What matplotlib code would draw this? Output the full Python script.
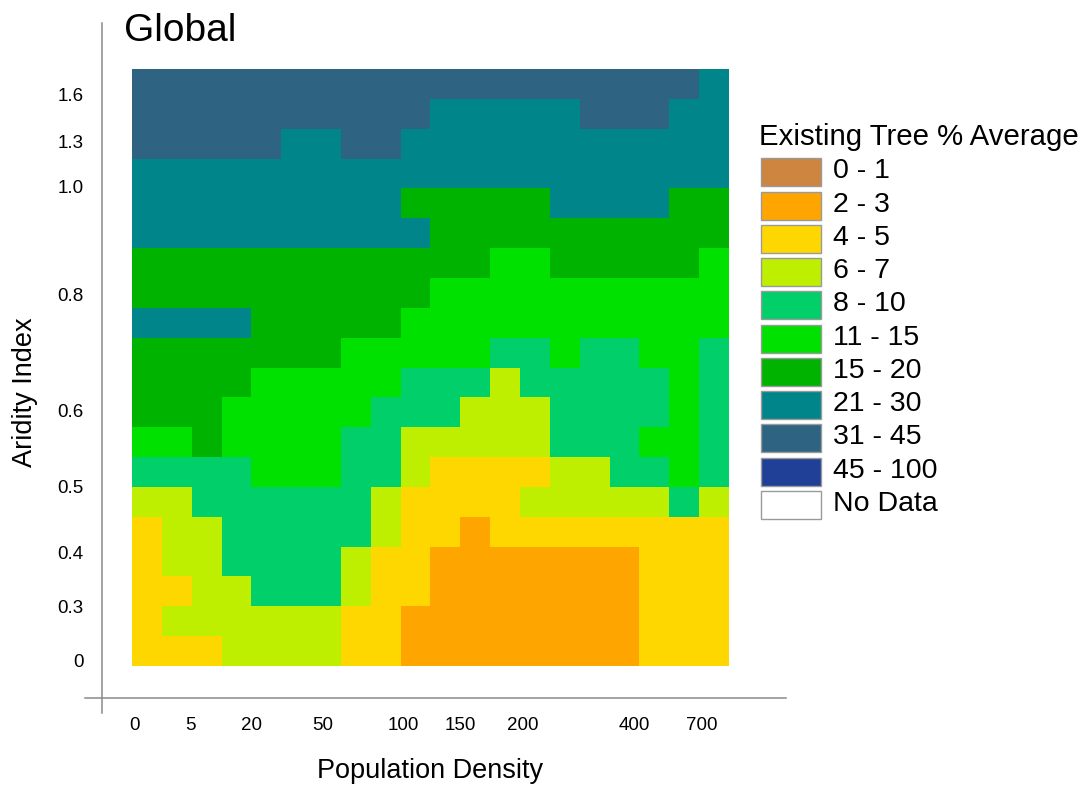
import numpy as np
import matplotlib
matplotlib.use("Agg")
import matplotlib.pyplot as plt
from matplotlib.colors import ListedColormap, BoundaryNorm
from matplotlib.patches import Rectangle
from matplotlib.lines import Line2D

plt.rcParams['font.family'] = ['Liberation Sans', 'DejaVu Sans']

# ---- data ----
class_labels = ["0 - 1", "2 - 3", "4 - 5", "6 - 7", "8 - 10", "11 - 15",
                "15 - 20", "21 - 30", "31 - 45", "45 - 100", "No Data"]
class_colors = ["#CD853F", "#FFA500", "#FFD700", "#BEEE00", "#00CF6A", "#00E100",
                "#00B300", "#00858A", "#2E6482", "#1F4096", "#FFFFFF"]

x_tick_labels = ["0", "5", "20", "50", "100", "150", "200", "400", "700"]
y_tick_labels = ["1.6", "1.3", "1.0", "0.8", "0.6", "0.5", "0.4", "0.3", "0"]

# class index per cell (rows top -> bottom, columns left -> right)
grid_rows = [
    "88888888888888888887",
    "88888888887777788877",
    "88888778877777777777",
    "77777777777777777777",
    "77777777766666777766",
    "77777777776666666666",
    "66666666666655666665",
    "66666666665555555555",
    "77776666655555555555",
    "66666665555544544554",
    "66665555544434444454",
    "66655555444333444454",
    "55655554433333444554",
    "44445554432222334454",
    "33444444322223333343",
    "23344444322122222222",
    "23344443221111111222",
    "22334443221111111222",
    "23333332211111111222",
    "22233332211111111222",
]
cells = np.array([[int(c) for c in r] for r in grid_rows])

# tick positions in cell units
x_tick_pos = [0.09, 1.97, 4.01, 6.39, 9.09, 11.01, 13.08, 16.82, 19.09]
y_tick_pos = [0.87, 2.44, 3.92, 7.57, 11.45, 13.99, 16.2, 18.02, 19.8]

# ---- figure ----
W, H = 1091, 785
fig = plt.figure(figsize=(W / 100, H / 100), dpi=100)

def fx(px):
    return px / W

def fy(py):
    return 1 - py / H

ax_l, ax_t, ax_r, ax_b = 132, 69, 729, 666
ax = fig.add_axes([fx(ax_l), fy(ax_b), (ax_r - ax_l) / W, (ax_b - ax_t) / H])

cmap = ListedColormap(class_colors)
norm = BoundaryNorm(np.arange(-0.5, len(class_colors) + 0.5, 1), cmap.N)
nr, nc = cells.shape
ax.pcolormesh(np.arange(nc + 1), np.arange(nr + 1), cells, cmap=cmap, norm=norm,
              shading='flat', antialiased=False, linewidth=0)
ax.set_xlim(0, nc)
ax.set_ylim(nr, 0)
for s in ax.spines.values():
    s.set_visible(False)

ax.set_xticks(x_tick_pos)
ax.set_xticklabels(x_tick_labels, fontsize=13.5)
ax.set_yticks(y_tick_pos)
ax.set_yticklabels(y_tick_labels, fontsize=13.5)
ax.tick_params(axis='x', length=0, pad=37)
ax.tick_params(axis='y', length=0, pad=35)

# cross-hair style axis lines
fig.add_artist(Line2D([fx(102), fx(102)], [fy(23), fy(713)], color="#8a8a8a", lw=1.1))
fig.add_artist(Line2D([fx(85), fx(786)], [fy(698), fy(698)], color="#8a8a8a", lw=1.1))

# titles and axis labels
fig.text(fx(124), fy(31), "Global", fontsize=28, ha='left', va='center')
fig.text(fx(430), fy(771), "Population Density", fontsize=19.5, ha='center', va='center')
fig.text(fx(25), fy(392), "Aridity Index", fontsize=19.5, ha='center', va='center', rotation=90)

# legend
fig.text(fx(759), fy(137), "Existing Tree % Average", fontsize=21.2, ha='left', va='center')
top0, step, pw, ph = 158.3, 33.27, 60, 28
for k, (lab, col) in enumerate(zip(class_labels, class_colors)):
    t = top0 + step * k
    fig.add_artist(Rectangle((fx(761), fy(t + ph)), pw / W, ph / H, transform=fig.transFigure,
                             facecolor=col, edgecolor="#9a9a9a", lw=1.0))
    fig.text(fx(833), fy(t + ph / 2 - 1), lab, fontsize=20.5, ha='left', va='center')

fig.savefig("out.png", dpi=100)
